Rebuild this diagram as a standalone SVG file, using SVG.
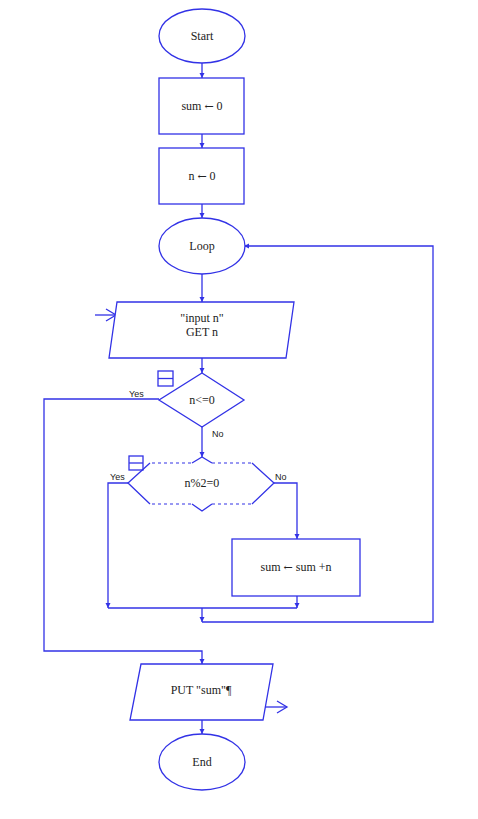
<svg xmlns="http://www.w3.org/2000/svg" width="478" height="819" viewBox="0 0 478 819">
<style>
.s{fill:#fff;stroke:#3232e6;stroke-width:1.3}
.l{fill:none;stroke:#3232e6;stroke-width:1.3}
.d{fill:none;stroke:#3232e6;stroke-width:1.2;stroke-dasharray:3 3}
.t{font-family:"Liberation Serif",serif;font-size:12px;fill:#222;text-anchor:middle}
.ar{font-family:"DejaVu Serif",serif;font-size:11px}
.b{font-family:"Liberation Sans",sans-serif;font-size:9px;fill:#222}
</style>
<defs>
<marker id="a" markerWidth="6" markerHeight="6" refX="5" refY="3" orient="auto" markerUnits="userSpaceOnUse">
<path d="M0,0.5 L5,3 L0,5.5 Z" fill="#3232e6"/>
</marker>
<marker id="o" markerWidth="14" markerHeight="14" refX="12" refY="7" orient="auto" markerUnits="userSpaceOnUse">
<path d="M2,1 L12,7 L2,13" fill="none" stroke="#3232e6" stroke-width="1.3"/>
</marker>
</defs>
<rect width="478" height="819" fill="#fff"/>
<g id="connectors">
<line class="l" x1="202" y1="63" x2="202" y2="78" marker-end="url(#a)"/>
<line class="l" x1="202" y1="134" x2="202" y2="148" marker-end="url(#a)"/>
<line class="l" x1="202" y1="204" x2="202" y2="218" marker-end="url(#a)"/>
<line class="l" x1="202" y1="274" x2="202" y2="302" marker-end="url(#a)"/>
<line class="l" x1="95" y1="315" x2="116" y2="315" marker-end="url(#o)"/>
<line class="l" x1="202" y1="358" x2="202" y2="373" marker-end="url(#a)"/>
<line class="l" x1="202" y1="427" x2="202" y2="457" marker-end="url(#a)"/>
<polyline class="l" points="159,399 44,399 44,651 202,651 202,664" marker-end="url(#a)"/>
<polyline class="l" points="128,483 108,483 108,608" marker-end="url(#a)"/>
<polyline class="l" points="274,483 297,483 297,539" marker-end="url(#a)"/>
<line class="l" x1="297" y1="596" x2="297" y2="608" marker-end="url(#a)"/>
<line class="l" x1="108" y1="608" x2="297" y2="608"/>
<line class="l" x1="202" y1="608" x2="202" y2="622" marker-end="url(#a)"/>
<polyline class="l" points="202,622 433,622 433,246 244,246" marker-end="url(#a)"/>
<line class="l" x1="265" y1="707" x2="287" y2="707" marker-end="url(#o)"/>
<line class="l" x1="202" y1="720" x2="202" y2="734" marker-end="url(#a)"/>
<text class="b" x="129" y="397">Yes</text>
<text class="b" x="212" y="437">No</text>
<text class="b" x="110" y="480">Yes</text>
<text class="b" x="275" y="480">No</text>
</g>
<g id="start">
<ellipse class="s" cx="202" cy="36" rx="43" ry="27"/>
<text class="t" x="202" y="40" font-size="11">Start</text>
</g>
<g id="sum0">
<rect class="s" x="159" y="78" width="85" height="56"/>
<text class="t" x="202" y="110">sum <tspan class="ar">←</tspan> 0</text>
</g>
<g id="n0">
<rect class="s" x="159" y="148" width="85" height="56"/>
<text class="t" x="202" y="180">n <tspan class="ar">←</tspan> 0</text>
</g>
<g id="loop">
<ellipse class="s" cx="202" cy="246" rx="43" ry="28"/>
<text class="t" x="202" y="250">Loop</text>
</g>
<g id="input">
<polygon class="s" points="117,302 294,302 286,358 109,358"/>
<text class="t" x="202" y="322">"input n"</text>
<text class="t" x="202" y="336">GET n</text>
</g>
<g id="cond1">
<polygon class="s" points="202,373 244,400 202,427 159,400"/>
<text class="t" x="202" y="404">n&lt;=0</text>
<rect class="l" x="158" y="371" width="15" height="15"/>
<line class="l" x1="158" y1="378.5" x2="173" y2="378.5"/>
</g>
<g id="cond2">
<polyline class="l" points="150,463 128,483 150,504"/>
<polyline class="l" points="252,463 274,483 252,504"/>
<polyline class="l" points="192,463 202,457 212,463"/>
<polyline class="l" points="192,504 202,511 212,504"/>
<line class="d" x1="152" y1="463" x2="192" y2="463"/>
<line class="d" x1="212" y1="463" x2="252" y2="463"/>
<line class="d" x1="152" y1="504" x2="192" y2="504"/>
<line class="d" x1="212" y1="504" x2="252" y2="504"/>
<text class="t" x="202" y="487">n%2=0</text>
<rect class="l" x="129" y="456" width="14" height="14"/>
<line class="l" x1="129" y1="463" x2="143" y2="463"/>
</g>
<g id="add">
<rect class="s" x="232" y="539" width="128" height="57"/>
<text class="t" x="296" y="571">sum <tspan class="ar">←</tspan> sum +n</text>
</g>
<g id="output">
<polygon class="s" points="141,664 273,664 263,720 130,720"/>
<text class="t" x="201" y="694">PUT "sum"¶</text>
</g>
<g id="end">
<ellipse class="s" cx="202" cy="762" rx="43" ry="28"/>
<text class="t" x="202" y="766">End</text>
</g>
</svg>
